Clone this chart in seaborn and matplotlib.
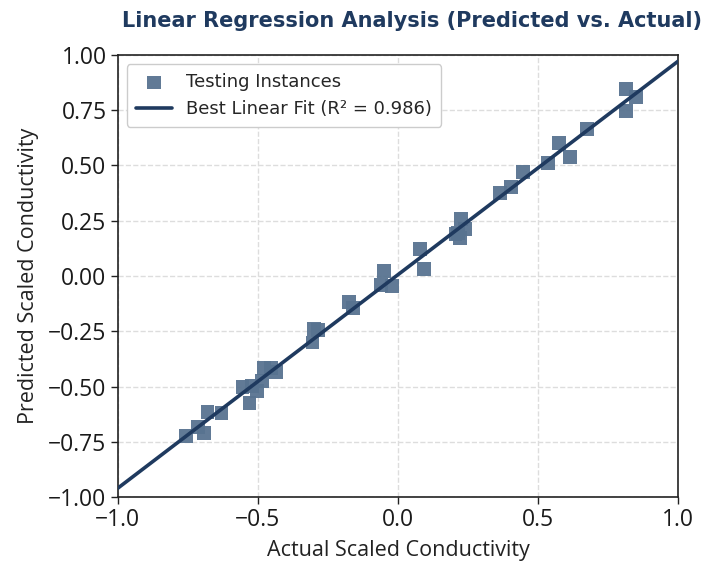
import numpy as np
import pandas as pd
import matplotlib
matplotlib.use("Agg")
import matplotlib.pyplot as plt
import seaborn as sns

actual = [-0.757, -0.714, -0.693, -0.679, -0.629, -0.554, -0.529, -0.521, -0.504,
          -0.486, -0.479, -0.454, -0.436, -0.300, -0.285, -0.305, -0.175, -0.161,
          -0.061, -0.050, -0.021, 0.079, 0.093, 0.205, 0.214, 0.221, 0.225, 0.239,
          0.364, 0.404, 0.446, 0.536, 0.575, 0.614, 0.675, 0.814, 0.814, 0.850]
predicted = [-0.724, -0.683, -0.710, -0.615, -0.620, -0.502, -0.575, -0.498, -0.520,
             -0.475, -0.416, -0.416, -0.434, -0.240, -0.245, -0.300, -0.118, -0.145,
             -0.041, 0.023, -0.045, 0.122, 0.032, 0.190, 0.195, 0.172, 0.258, 0.213,
             0.376, 0.403, 0.471, 0.511, 0.602, 0.538, 0.665, 0.846, 0.747, 0.810]
fit_x = [-1.0, 1.0]
r2 = 0.986
x_ticks = [-1.0, -0.5, 0.0, 0.5, 1.0]
y_ticks = [-1.0, -0.75, -0.5, -0.25, 0.0, 0.25, 0.5, 0.75, 1.0]

df = pd.DataFrame({"Actual": actual, "Predicted": predicted})
slope, intercept = np.polyfit(actual, predicted, 1)
fit_df = pd.DataFrame({"x": fit_x, "y": [slope * v + intercept for v in fit_x]})

sns.set_theme(style="whitegrid")
plt.rcParams['font.family'] = ['Open Sans', 'DejaVu Sans']
plt.rcParams['axes.unicode_minus'] = True

fig = plt.figure(figsize=(7.05, 5.61), dpi=100)
ax = fig.add_axes([0.167, 0.114, 0.795, 0.788])

sns.scatterplot(data=df, x="Actual", y="Predicted", ax=ax, marker="s", s=95,
                color="#587390", edgecolor="none", alpha=0.95,
                label="Testing Instances", zorder=3)
sns.lineplot(data=fit_df, x="x", y="y", ax=ax, color="#1f3a5f", linewidth=2.6,
             label=f"Best Linear Fit (R² = {r2})", zorder=4)

ax.set_xlim(-1, 1)
ax.set_ylim(-1, 1)
ax.set_xticks(x_ticks)
ax.set_yticks(y_ticks)
ax.set_yticklabels([f"{v:.2f}".replace("-", "\u2212") for v in y_ticks])
ax.set_xticklabels([f"{v:.1f}".replace("-", "\u2212") for v in x_ticks])

ax.set_facecolor("white")
ax.grid(True, linestyle="--", color="#dddddd", linewidth=1.0)
for sp in ax.spines.values():
    sp.set_color("#222222")
    sp.set_linewidth(1.2)
ax.tick_params(axis="both", which="major", direction="out", length=5, width=1,
               color="#222222", bottom=True, left=True, labelsize=16.5,
               labelcolor="#1a1a1a", pad=3)

ax.set_xlabel("Actual Scaled Conductivity", fontsize=15.5, color="#222222", labelpad=6)
ax.set_ylabel("Predicted Scaled Conductivity", fontsize=15.5, color="#222222", labelpad=7)
ax.set_title("Linear Regression Analysis (Predicted vs. Actual)", fontsize=15,
             fontweight="bold", color="#1f3a5f", pad=20, x=0.525,
             family=["DejaVu Sans"])

leg = ax.legend(loc="upper left", frameon=True, framealpha=1.0,
                edgecolor="#cccccc", borderpad=0.5,
                prop={"family": "DejaVu Sans", "size": 13})

fig.savefig("out.png", dpi=100)
